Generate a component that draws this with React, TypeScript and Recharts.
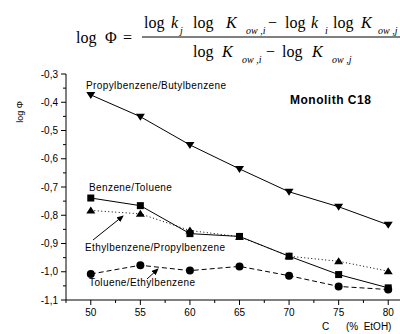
import { LineChart, Line, XAxis, YAxis } from 'recharts'

document.body.style.margin = '0'

// % EtOH in the mobile phase
const concentrations = [50, 55, 60, 65, 70, 75, 80]

// log Φ for each pair
const propylButyl = [-0.374, -0.451, -0.551, -0.636, -0.717, -0.77, -0.834]
const benzeneToluene = [-0.739, -0.766, -0.865, -0.875, -0.945, -1.01, -1.057]
const ethylPropyl = [-0.783, -0.795, -0.854, -0.876, -0.945, -0.963, -0.998]
const tolueneEthyl = [-1.008, -0.977, -0.996, -0.981, -1.014, -1.052, -1.063]

const xTicks = [47.5, 50, 52.5, 55, 57.5, 60, 62.5, 65, 67.5, 70, 72.5, 75, 77.5, 80, 82.5]
const yTicks = [
  -1.1, -1.05, -1.0, -0.95, -0.9, -0.85, -0.8, -0.75, -0.7, -0.65, -0.6, -0.55, -0.5, -0.45, -0.4,
  -0.35, -0.3,
]

const data = concentrations.map((c, i) => ({
  c,
  propylButyl: propylButyl[i],
  benzeneToluene: benzeneToluene[i],
  ethylPropyl: ethylPropyl[i],
  tolueneEthyl: tolueneEthyl[i],
}))

const SANS = 'Liberation Sans, Arial, sans-serif'
const SERIF = 'Liberation Serif, Times New Roman, serif'
const INK = '#000'

const isMajor = (v: number, step: number) => Math.abs(v / step - Math.round(v / step)) < 1e-6

function XTick({ x = 0, y = 0, payload }: any) {
  const v = Number(payload?.value)
  const major = isMajor(v, 5)
  return (
    <g>
      <line x1={x} x2={x} y1={y} y2={y + (major ? 5 : 3)} stroke={INK} strokeWidth={1} />
      {major ? (
        <text x={x} y={y + 16} textAnchor="middle" fontFamily={SANS} fontSize={10} fill={INK}>
          {v}
        </text>
      ) : null}
    </g>
  )
}

function YTick({ x = 0, y = 0, payload }: any) {
  const v = Number(payload?.value)
  const major = isMajor(v, 0.1)
  return (
    <g>
      <line x1={x - (major ? 5 : 3)} x2={x} y1={y} y2={y} stroke={INK} strokeWidth={1} />
      {major ? (
        <text x={x - 8} y={y + 3.5} textAnchor="end" fontFamily={SANS} fontSize={10} fill={INK}>
          {v.toFixed(1).replace('.', ',')}
        </text>
      ) : null}
    </g>
  )
}

const DownTriangle = ({ cx, cy }: any) => (
  <path d={`M${cx - 4.5},${cy - 3} L${cx + 4.5},${cy - 3} L${cx},${cy + 4} Z`} fill={INK} />
)
const UpTriangle = ({ cx, cy }: any) => (
  <path d={`M${cx - 4.5},${cy + 3} L${cx + 4.5},${cy + 3} L${cx},${cy - 4} Z`} fill={INK} />
)
const Square = ({ cx, cy }: any) => <rect x={cx - 3.5} y={cy - 3.5} width={7} height={7} fill={INK} />
const Circle = ({ cx, cy }: any) => <circle cx={cx} cy={cy} r={4} fill={INK} />

function Sub({ x, y, children }: { x: number; y: number; children: string }) {
  return (
    <text x={x} y={y} fontFamily={SERIF} fontStyle="italic" fontSize={10} fill={INK}>
      {children}
    </text>
  )
}

function Serif({ x, y, italic, children }: { x: number; y: number; italic?: boolean; children: string }) {
  return (
    <text x={x} y={y} fontFamily={SERIF} fontStyle={italic ? 'italic' : 'normal'} fontSize={16} fill={INK}>
      {children}
    </text>
  )
}

function Overlay() {
  const label = { fontFamily: SANS, fontSize: 10, fill: INK, letterSpacing: 0.4 }
  return (
    <svg
      width={400}
      height={334}
      style={{ position: 'absolute', left: 0, top: 0, pointerEvents: 'none', overflow: 'hidden' }}
    >
      <defs>
        <marker id="arrow" markerWidth={7} markerHeight={6} refX={6} refY={3} orient="auto" markerUnits="userSpaceOnUse">
          <path d="M0,0 L7,3 L0,6 Z" fill={INK} />
        </marker>
      </defs>

      {/* formula */}
      <Serif x={76} y={43}>log</Serif>
      <Serif x={105} y={43}>Φ</Serif>
      <Serif x={123} y={43}>=</Serif>
      <line x1={142} x2={400} y1={37} y2={37} stroke={INK} strokeWidth={1} />

      <Serif x={144} y={28}>log</Serif>
      <Serif x={171} y={28} italic>k</Serif>
      <Sub x={180} y={34}>j</Sub>
      <Serif x={193} y={28}>log</Serif>
      <Serif x={226} y={28} italic>K</Serif>
      <Sub x={246} y={34}>ow ,i</Sub>
      <Serif x={268} y={28}>−</Serif>
      <Serif x={285} y={28}>log</Serif>
      <Serif x={311} y={28} italic>k</Serif>
      <Sub x={325} y={34}>i</Sub>
      <Serif x={333} y={28}>log</Serif>
      <Serif x={361} y={28} italic>K</Serif>
      <Sub x={378} y={34}>ow ,j</Sub>

      <Serif x={193} y={57}>log</Serif>
      <Serif x={222} y={57} italic>K</Serif>
      <Sub x={242} y={63}>ow ,i</Sub>
      <Serif x={266} y={57}>−</Serif>
      <Serif x={282} y={57}>log</Serif>
      <Serif x={312} y={57} italic>K</Serif>
      <Sub x={332} y={63}>ow ,j</Sub>

      {/* axis titles */}
      <text
        transform="translate(23,112) rotate(-90)"
        textAnchor="middle"
        fontFamily={SANS}
        fontSize={9}
        fill={INK}
      >
        log Φ
      </text>
      <text x={322} y={330} fontFamily={SANS} fontSize={10} fill={INK} style={{ whiteSpace: 'pre' }}>
        {'C      (%  EtOH)'}
      </text>

      {/* annotations */}
      <text x={86} y={89} {...label}>Propylbenzene/Butylbenzene</text>
      <text x={290} y={104} fontFamily={SANS} fontSize={12} fontWeight="bold" fill={INK} letterSpacing={0.5}>
        Monolith C18
      </text>
      <text x={89} y={191} {...label}>Benzene/Toluene</text>
      <text x={85} y={251} {...label}>Ethylbenzene/Propylbenzene</text>
      <text x={89} y={286} {...label}>Toluene/Ethylbenzene</text>

      <line x1={93} y1={240} x2={123} y2={216} stroke={INK} strokeWidth={1} markerEnd="url(#arrow)" />
      <line x1={147} y1={279} x2={158} y2={269} stroke={INK} strokeWidth={1} markerEnd="url(#arrow)" />
    </svg>
  )
}

export default function App() {
  return (
    <div style={{ position: 'relative', width: 400, height: 334, overflow: 'hidden', background: '#fff' }}>
      <LineChart width={413} height={334} data={data} margin={{ top: 74, right: 0, bottom: 4, left: 20 }}>
        <XAxis
          dataKey="c"
          type="number"
          domain={[47.5, 82.5]}
          ticks={xTicks}
          interval={0}
          height={30}
          tickSize={0}
          tickMargin={0}
          tickLine={false}
          axisLine={{ stroke: INK, strokeWidth: 1 }}
          tick={<XTick />}
        />
        <YAxis
          type="number"
          domain={[-1.1, -0.3]}
          ticks={yTicks}
          interval={0}
          width={46}
          tickSize={0}
          tickMargin={0}
          tickLine={false}
          axisLine={{ stroke: INK, strokeWidth: 1 }}
          tick={<YTick />}
        />
        <Line
          dataKey="propylButyl"
          stroke={INK}
          strokeWidth={1}
          dot={<DownTriangle />}
          activeDot={false}
          isAnimationActive={false}
        />
        <Line
          dataKey="benzeneToluene"
          stroke={INK}
          strokeWidth={1}
          dot={<Square />}
          activeDot={false}
          isAnimationActive={false}
        />
        <Line
          dataKey="ethylPropyl"
          stroke={INK}
          strokeWidth={1}
          strokeDasharray="1 2.5"
          dot={<UpTriangle />}
          activeDot={false}
          isAnimationActive={false}
        />
        <Line
          dataKey="tolueneEthyl"
          stroke={INK}
          strokeWidth={1}
          strokeDasharray="5 3"
          dot={<Circle />}
          activeDot={false}
          isAnimationActive={false}
        />
      </LineChart>
      <Overlay />
    </div>
  )
}
